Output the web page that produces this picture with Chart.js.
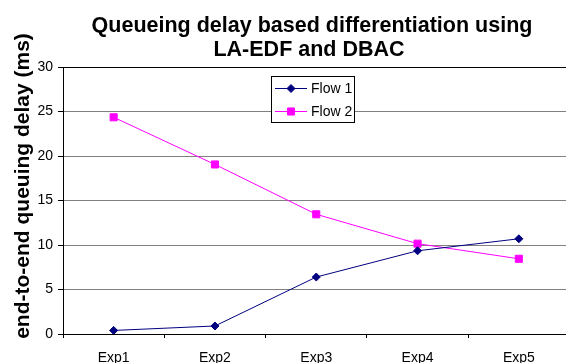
<!DOCTYPE html>
<html>
<head>
<meta charset="utf-8">
<script src="https://cdn.jsdelivr.net/npm/chart.js@4.4.1/dist/chart.umd.min.js"></script>
<style>
  html, body { margin: 0; padding: 0; background: #fff; overflow: hidden; }
  #wrap { position: relative; width: 566px; height: 363px; overflow: hidden; }
  #box { position: absolute; left: 0; top: 0; width: 600px; height: 380px; }
</style>
</head>
<body>
<div id="wrap"><div id="box"><canvas id="c"></canvas></div></div>
<script>
const FONT = '"Liberation Sans", Arial, sans-serif';
const chartTitle = ['Queueing delay based differentiation using', 'LA-EDF and DBAC'];
const yAxisTitle = 'end-to-end queuing delay (ms)';
const categories = ['Exp1', 'Exp2', 'Exp3', 'Exp4', 'Exp5'];
const seriesNames = ['Flow 1', 'Flow 2'];
const flow1 = [0.4, 0.9, 6.4, 9.35, 10.7];
const flow2 = [24.35, 19.05, 13.45, 10.15, 8.45];
const yTicks = [0, 5, 10, 15, 20, 25, 30];

const textPlugin = {
  id: 'texts',
  afterDraw(chart) {
    const ctx = chart.ctx;
    ctx.save();
    // main title
    ctx.fillStyle = '#000';
    ctx.font = 'bold 21.5px ' + FONT;
    ctx.textAlign = 'center';
    ctx.textBaseline = 'alphabetic';
    ctx.fillText(chartTitle[0], 312, 32);
    ctx.fillText(chartTitle[1], 309, 56);
    // y axis title
    ctx.save();
    ctx.font = 'bold 21px ' + FONT;
    ctx.translate(29, 186);
    ctx.rotate(-Math.PI / 2);
    ctx.textAlign = 'center';
    ctx.textBaseline = 'alphabetic';
    ctx.fillText(yAxisTitle, 0, 0);
    ctx.restore();
    // legend
    const lx = 271, ly = 76, lw = 83, lh = 46;
    ctx.fillStyle = '#fff';
    ctx.fillRect(lx, ly, lw, lh);
    ctx.strokeStyle = '#000';
    ctx.lineWidth = 1;
    ctx.strokeRect(lx + 0.5, ly + 0.5, lw, lh);
    chart.data.datasets.forEach((ds, i) => {
      const cy = 88.5 + i * 23;
      ctx.strokeStyle = ds.borderColor;
      ctx.lineWidth = 1;
      ctx.beginPath();
      ctx.moveTo(275, cy);
      ctx.lineTo(307, cy);
      ctx.stroke();
      ctx.fillStyle = ds.pointBackgroundColor;
      ctx.strokeStyle = ds.borderColor;
      Chart.helpers.drawPoint(ctx, {pointStyle: ds.pointStyle, radius: ds.pointRadius, borderWidth: 1}, 291, cy);
      ctx.fillStyle = '#000';
      ctx.font = '14px ' + FONT;
      ctx.textAlign = 'left';
      ctx.textBaseline = 'middle';
      ctx.fillText(ds.label, 311, cy + 0.5);
    });
    ctx.restore();
  }
};

new Chart(document.getElementById('c'), {
  type: 'line',
  data: {
    labels: categories,
    datasets: [
      {
        label: seriesNames[0], data: flow1,
        borderColor: '#000080', backgroundColor: '#000080',
        pointBackgroundColor: '#000080', pointBorderColor: '#000080',
        pointStyle: 'rectRot', pointRadius: 4, pointBorderWidth: 1,
        borderWidth: 1, tension: 0, fill: false
      },
      {
        label: seriesNames[1], data: flow2,
        borderColor: '#FF00FF', backgroundColor: '#FF00FF',
        pointBackgroundColor: '#FF00FF', pointBorderColor: '#FF00FF',
        pointStyle: 'rect', pointRadius: 5, pointBorderWidth: 1,
        borderWidth: 1, tension: 0, fill: false
      }
    ]
  },
  options: {
    responsive: true,
    maintainAspectRatio: false,
    animation: false,
    events: [],
    layout: { padding: { left: 0, top: 67, right: 30.5, bottom: 0 } },
    plugins: {
      legend: { display: false },
      title: { display: false },
      tooltip: { enabled: false }
    },
    scales: {
      x: {
        type: 'category',
        offset: true,
        grid: {
          offset: true, drawOnChartArea: false, drawTicks: true,
          tickLength: 4, color: '#000', tickColor: '#000'
        },
        border: { display: true, color: '#000', width: 1 },
        ticks: {
          color: '#000', font: { family: FONT, size: 14 }, padding: 12,
          maxRotation: 0, autoSkip: false
        },
        afterFit(scale) { scale.height = 46; }
      },
      y: {
        min: 0, max: 30,
        afterBuildTicks(scale) { scale.ticks = yTicks.map(v => ({ value: v })); },
        grid: {
          color: (c) => (c.tick && c.tick.value === 30 ? '#000' : '#808080'),
          tickColor: '#000', tickLength: 5, drawTicks: true, lineWidth: 1
        },
        border: { display: true, color: '#000', width: 1 },
        ticks: {
          color: '#000', font: { family: FONT, size: 14 }, padding: 5
        },
        afterFit(scale) { scale.width = 63; }
      }
    }
  },
  plugins: [textPlugin]
});
</script>
</body>
</html>
